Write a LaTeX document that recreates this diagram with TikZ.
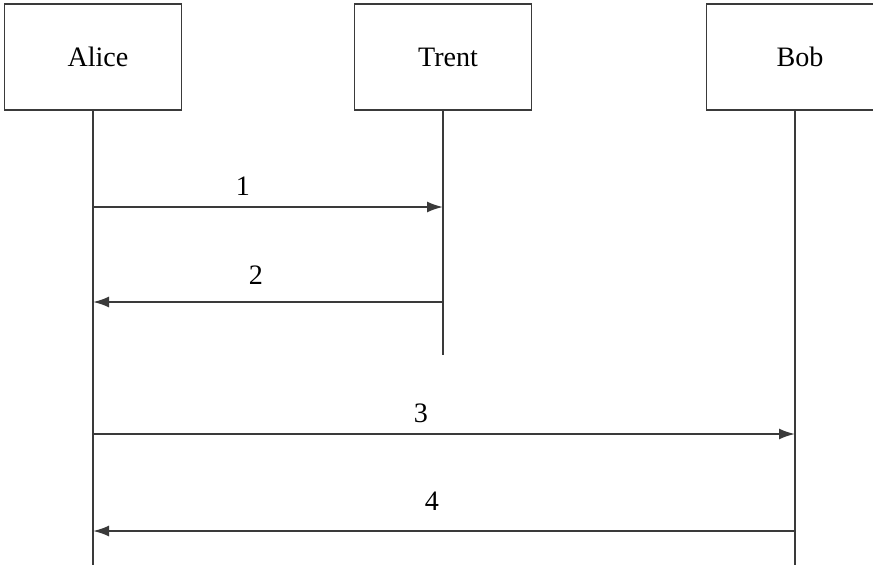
\documentclass[tikz,border=0pt]{standalone}
\usepackage{fontspec}
\setmainfont{Liberation Serif}
\usepackage{tikz}
\usetikzlibrary{arrows.meta,positioning}

\begin{document}
\begin{tikzpicture}[
        party/.style={rectangle, draw=linegray, line width=1.1pt, minimum width=3.54cm, minimum height=2.12cm, font=\fontsize{16}{19}\selectfont},
        life/.style={draw=linegray, line width=1.1pt},
        msg/.style={draw=linegray, line width=1.1pt, -{Latex[length=3.2mm,width=2.2mm]}},
        num/.style={font=\fontsize{16}{19}\selectfont},
    ]
        \definecolor{linegray}{RGB}{58,58,58}
        \clip (0,0) rectangle (17.46,-11.28);
        \useasboundingbox (0,0) rectangle (17.46,-11.28);

        % parties
        \node[party] (alice) at (1.86,-1.14) {\hspace*{0.2cm}Alice};
        \node[party] (trent) at (8.86,-1.14) {\hspace*{0.2cm}Trent};
        \node[party] (bob) at (15.9,-1.14) {\hspace*{0.2cm}Bob};

        % lifelines
        \coordinate (aend) at (1.86,-11.4);
        \coordinate (tend) at (8.86,-7.1);
        \coordinate (bend) at (15.9,-11.4);
        \draw[life] (alice) -- (aend);
        \draw[life] (trent) -- (tend);
        \draw[life] (bob) -- (bend);

        % message end points
        \coordinate (a1) at (1.86,-4.14);
        \coordinate (t1) at (8.86,-4.14);
        \coordinate (a2) at (1.86,-6.04);
        \coordinate (t2) at (8.86,-6.04);
        \coordinate (a3) at (1.86,-8.68);
        \coordinate (b3) at (15.9,-8.68);
        \coordinate (a4) at (1.86,-10.62);
        \coordinate (b4) at (15.9,-10.62);

        % messages
        \draw[msg] (a1) -- (t1);
        \node[num] (n1) at (4.86,-3.72) {1};
        \draw[msg] (t2) -- (a2);
        \node[num] (n2) at (5.12,-5.5) {2};
        \draw[msg] (a3) -- (b3);
        \node[num] (n3) at (8.42,-8.26) {3};
        \draw[msg] (b4) -- (a4);
        \node[num] (n4) at (8.64,-10.02) {4};
    \end{tikzpicture}
\end{document}
